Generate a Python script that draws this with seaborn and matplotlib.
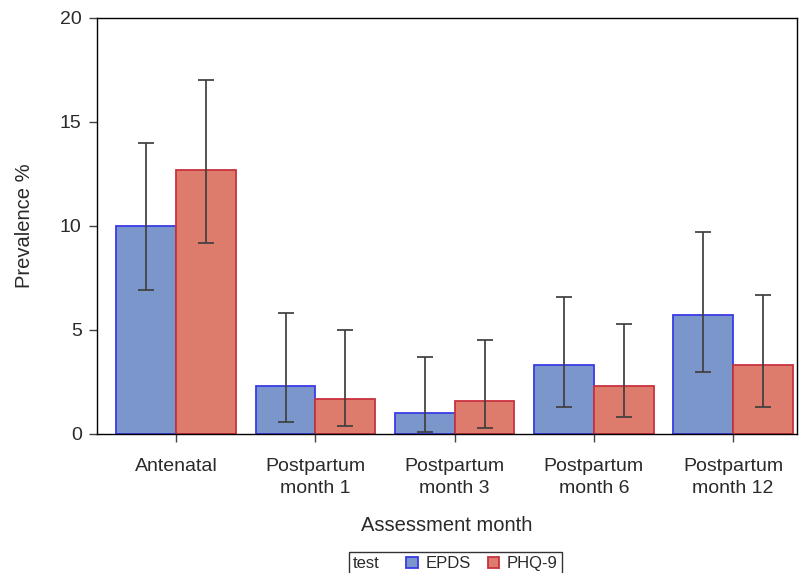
import matplotlib
matplotlib.use("Agg")
import matplotlib.pyplot as plt
import seaborn as sns
import pandas as pd
from matplotlib.patches import Patch
from matplotlib.offsetbox import HPacker

# values
months = ["Antenatal", "Postpartum\nmonth 1", "Postpartum\nmonth 3",
          "Postpartum\nmonth 6", "Postpartum\nmonth 12"]
tests = ["EPDS", "PHQ-9"]
epds = [10.0, 2.3, 1.0, 3.3, 5.7]
epds_lo = [6.9, 0.6, 0.1, 1.3, 3.0]
epds_hi = [14.0, 5.8, 3.7, 6.6, 9.7]
phq = [12.7, 1.7, 1.6, 2.3, 3.3]
phq_lo = [9.2, 0.4, 0.3, 0.8, 1.3]
phq_hi = [17.0, 5.0, 4.5, 5.3, 6.7]

fill = {"EPDS": "#7B96CA", "PHQ-9": "#DD7B6C"}
edge = {"EPDS": "#3A3AE6", "PHQ-9": "#C8323E"}

df = pd.DataFrame({
    "month": months * 2,
    "test": ["EPDS"] * 5 + ["PHQ-9"] * 5,
    "prev": epds + phq,
    "lo": epds_lo + phq_lo,
    "hi": epds_hi + phq_hi,
})

sns.set_style("ticks")
plt.rcParams["font.family"] = ["Liberation Sans", "DejaVu Sans"]
plt.rcParams["text.color"] = "#2a2a2a"

fig = plt.figure(figsize=(8.03, 5.73), dpi=100)
ax = fig.add_axes([0.1208, 0.2426, 0.8717, 0.726])

sns.barplot(data=df, x="month", y="prev", hue="test", order=months,
            hue_order=tests, palette=fill, saturation=1, width=0.86,
            errorbar=None, legend=False, ax=ax)

for cont, t in zip(ax.containers, tests):
    sub = df[df.test == t].set_index("month").loc[months]
    xs = []
    for bar in cont:
        bar.set_edgecolor(edge[t])
        bar.set_linewidth(1.3)
        xs.append(bar.get_x() + bar.get_width() / 2)
    ax.errorbar(xs, sub["prev"], yerr=[sub["prev"] - sub["lo"], sub["hi"] - sub["prev"]],
                fmt="none", ecolor="#404040", elinewidth=1.4, capsize=6,
                capthick=1.4, alpha=0.9, zorder=5)

ax.set_xlim(-0.57, 4.46)
ax.set_ylim(0, 20)
ax.set_yticks([0, 5, 10, 15, 20])
for s in ax.spines.values():
    s.set_visible(True)
    s.set_color("black")
    s.set_linewidth(1.0)
ax.tick_params(axis="both", labelsize=14, colors="#444444", length=6, width=1,
               labelcolor="#2a2a2a")
ax.tick_params(axis="x", pad=11)
ax.tick_params(axis="y", pad=5)
for lab in ax.get_xticklabels():
    lab.set_linespacing(1.45)
ax.set_xlabel("Assessment month", fontsize=14.5, color="#2a2a2a", labelpad=13)
ax.set_ylabel("Prevalence %", fontsize=14.5, color="#2a2a2a", labelpad=19)

handles = [Patch(facecolor=fill[t], edgecolor=edge[t], linewidth=1.3) for t in tests]
fs = 12
leg = fig.legend(handles, tests, title="test", title_fontsize=fs, ncol=2,
                 loc="center", bbox_to_anchor=(0.567, 0.016), frameon=True,
                 fancybox=False, fontsize=fs, handlelength=0.7, handleheight=0.7,
                 handletextpad=0.45, columnspacing=1.0, borderpad=0.25,
                 borderaxespad=0)
# put the title on the same row as the entries
box = HPacker(pad=leg.borderpad * fs, sep=1.6 * fs, align="center",
              children=[leg._legend_title_box, leg._legend_handle_box])
box.set_figure(fig)
box.set_offset(leg._findoffset)
leg._legend_box = box
leg.get_frame().set_edgecolor("black")
leg.get_frame().set_linewidth(1.0)

fig.savefig("out.png", dpi=100)
